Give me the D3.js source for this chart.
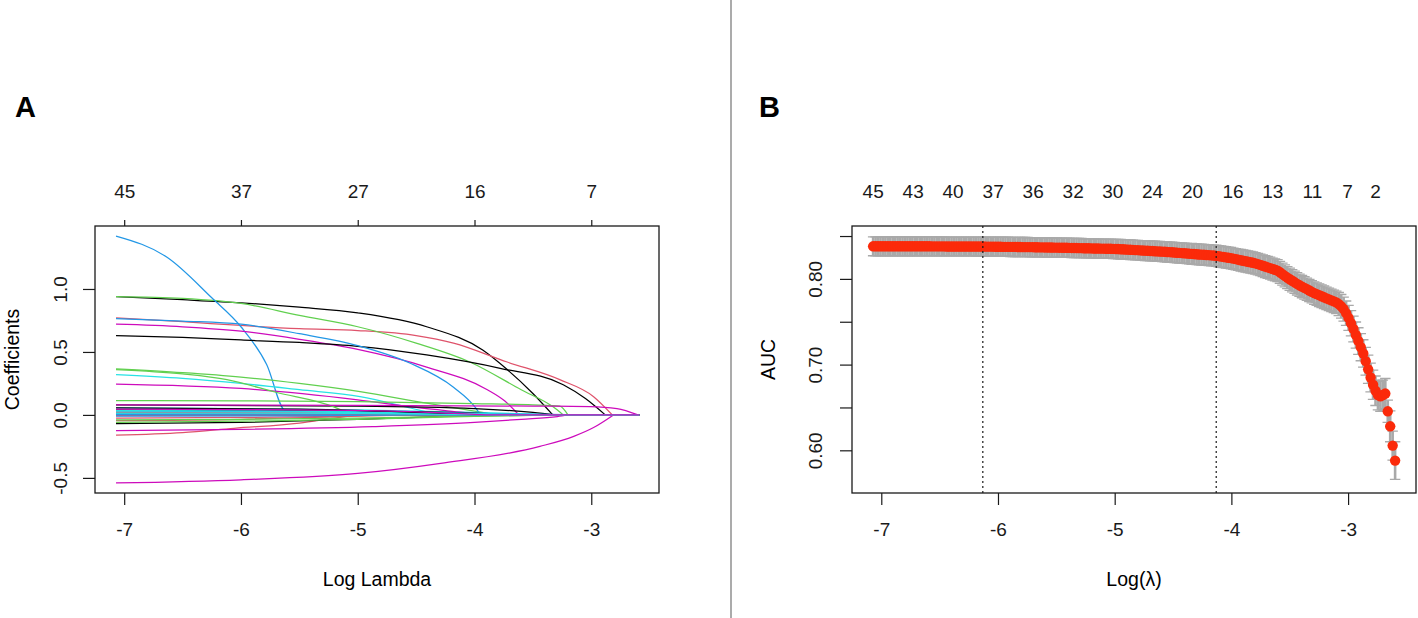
<!DOCTYPE html>
<html>
<head>
<meta charset="utf-8">
<script src="https://cdn.jsdelivr.net/npm/d3@7"></script>
<style>
  body { margin: 0; background: #fff; }
  svg { display: block; font-family: "Liberation Sans", Arial, Helvetica, sans-serif; }
</style>
</head>
<body>
<svg id="fig" width="1418" height="618"></svg>
<script>
// ---------- panel A : coefficient paths ----------
const pathTicks = [-7, -6, -5, -4, -3];
const coefTicks = [-0.5, 0, 0.5, 1.0];
const pathTopAt = [-7, -6, -5, -4, -3];
const pathTopLabels = ["45", "37", "27", "16", "7"];
const pathEnd = -2.59;

// [log lambda, coefficient] knots per variable, colours cycle like matplot
const coefPaths = [
  [[-7.07,0.94],[-6.5,0.915],[-6,0.89],[-5.5,0.855],[-5,0.81],[-4.41,0.70],[-3.93,0.515],[-3.72,0.36],[-3.5,0.17],[-3.33,0]],
  [[-7.07,0.77],[-6.5,0.74],[-6,0.71],[-5.5,0.685],[-5,0.67],[-4.5,0.63],[-4.18,0.57],[-3.72,0.42],[-3.27,0.28],[-2.98,0.145],[-2.82,0]],
  [[-7.07,0.94],[-6.5,0.925],[-6,0.885],[-5.5,0.79],[-5,0.70],[-4.5,0.57],[-4.04,0.42],[-3.6,0.20],[-3.33,0.066],[-3.24,0]],
  [[-7.07,1.42],[-6.63,1.25],[-6.25,0.93],[-6,0.70],[-5.78,0.40],[-5.62,0.035],[-5,0.02],[-4.3,0]],
  [[-7.07,0.32],[-6.5,0.29],[-6,0.25],[-5.5,0.20],[-4.98,0.145],[-4.55,0.055],[-4.3,0]],
  [[-7.07,0.72],[-6.5,0.70],[-6,0.665],[-5.5,0.60],[-5,0.52],[-4.41,0.38],[-3.89,0.20],[-3.74,0.11],[-3.62,0]],

  [[-7.07,0.63],[-6.5,0.615],[-6,0.595],[-5.5,0.575],[-5,0.545],[-4.41,0.476],[-3.78,0.37],[-3.24,0.24],[-3.05,0.13],[-2.88,0]],
  [[-7.07,-0.16],[-6.5,-0.14],[-6.06,-0.106],[-5.5,-0.065],[-5.2,-0.025],[-5.0,0]],
  [[-7.07,0.365],[-6.5,0.335],[-6,0.30],[-5.5,0.25],[-4.98,0.185],[-4.41,0.093],[-4.0,0.03],[-3.8,0]],
  [[-7.07,0.765],[-6.5,0.745],[-6,0.72],[-5.5,0.645],[-5,0.55],[-4.55,0.41],[-4.18,0.22],[-3.99,0.055],[-3.95,0]],
  [[-7.07,0.055],[-6,0.05],[-5,0.04],[-4,0.02],[-3.3,0]],
  [[-7.07,0.245],[-6,0.21],[-5,0.12],[-4.5,0.06],[-4.1,0.02],[-3.9,0]],

  [[-7.07,0.08],[-5,0.07],[-4,0.05],[-3.5,0.02],[-3.3,0]],
  [[-7.07,-0.025],[-6,-0.02],[-5,-0.01],[-4.5,0]],
  [[-7.07,0.36],[-6.5,0.325],[-6.12,0.28],[-5.7,0.18],[-5.21,0.066],[-5.05,0]],
  [[-7.07,0.013],[-5,0.01],[-4,0.005],[-3.5,0]],
  [[-7.07,0.005],[-5,0.003],[-4,0]],
  [[-7.07,-0.54],[-6,-0.515],[-5,-0.465],[-4.29,-0.385],[-3.44,-0.25],[-3.15,-0.17],[-2.98,-0.10],[-2.81,0]],

  [[-7.07,0.04],[-5,0.03],[-4,0.015],[-3.6,0]],
  [[-7.07,-0.045],[-6,-0.035],[-5.2,-0.015],[-4.8,0]],
  [[-7.07,0.113],[-6,0.112],[-5,0.105],[-4,0.09],[-3.5,0.08],[-3.27,0.07],[-3.2,0]],
  [[-7.07,0.03],[-5,0.025],[-4,0.012],[-3.0,0]],
  [[-7.07,0.025],[-5,0.02],[-4,0.01],[-3.2,0]],
  [[-7.07,0.08],[-5,0.075],[-3.5,0.07],[-3.01,0.066],[-2.78,0.05],[-2.6,0]],

  [[-7.07,-0.07],[-6,-0.06],[-5,-0.035],[-4.5,-0.02],[-3.9,0]],
  [[-7.07,0.02],[-5.5,0.015],[-4.6,0]],
  [[-7.07,-0.04],[-6,-0.035],[-5,-0.025],[-4,-0.01],[-3.3,0]],
  [[-7.07,0.005],[-5.5,0.004],[-4.5,0]],
  [[-7.07,0.035],[-6,0.032],[-5,0.022],[-4.2,0]],
  [[-7.07,-0.125],[-6,-0.115],[-4.87,-0.093],[-4,-0.06],[-3.6,-0.035],[-3.29,-0.013],[-3.2,0]],

  [[-7.07,0.055],[-5.5,0.045],[-4.5,0.02],[-4,0]],
  [[-7.07,-0.005],[-5.5,-0.004],[-4.7,0]],
  [[-7.07,-0.06],[-6,-0.05],[-5,-0.035],[-4.2,-0.015],[-3.3,0]],
  [[-7.07,-0.01],[-5.5,-0.008],[-4.6,0]],
  [[-7.07,0.015],[-5,0.012],[-3.8,0]],
  [[-7.07,0.045],[-5.5,0.04],[-4.5,0.025],[-3.9,0]]
];

// ---------- panel B : cross-validated AUC ----------
const cvFirst = -7.07;
const cvStep = 0.021;
const cvAuc = [
  0.8380,0.8380,0.8380,0.8380,0.8380,0.8380,0.8380,0.8380,0.8380,0.8380,
  0.8380,0.8380,0.8380,0.8380,0.8380,0.8380,0.8380,0.8380,0.8380,0.8380,
  0.8380,0.8380,0.8380,0.8380,0.8379,0.8379,0.8379,0.8379,0.8379,0.8379,
  0.8378,0.8378,0.8378,0.8378,0.8378,0.8378,0.8378,0.8378,0.8378,0.8378,
  0.8378,0.8378,0.8377,0.8377,0.8377,0.8377,0.8376,0.8376,0.8376,0.8376,
  0.8375,0.8375,0.8375,0.8374,0.8374,0.8374,0.8373,0.8373,0.8373,0.8372,
  0.8372,0.8371,0.8371,0.8371,0.8370,0.8370,0.8369,0.8369,0.8368,0.8368,
  0.8367,0.8367,0.8366,0.8366,0.8365,0.8365,0.8364,0.8364,0.8363,0.8363,
  0.8362,0.8361,0.8361,0.8360,0.8359,0.8359,0.8358,0.8357,0.8357,0.8356,
  0.8355,0.8355,0.8354,0.8353,0.8353,0.8352,0.8351,0.8351,0.8350,0.8349,
  0.8348,0.8346,0.8345,0.8343,0.8341,0.8340,0.8338,0.8336,0.8335,0.8333,
  0.8331,0.8330,0.8328,0.8326,0.8325,0.8323,0.8321,0.8320,0.8318,0.8316,
  0.8314,0.8312,0.8310,0.8308,0.8305,0.8303,0.8301,0.8299,0.8297,0.8294,
  0.8292,0.8290,0.8288,0.8285,0.8283,0.8281,0.8279,0.8277,0.8274,0.8272,
  0.8269,0.8265,0.8260,0.8256,0.8251,0.8247,0.8242,0.8236,0.8230,0.8224,
  0.8218,0.8212,0.8206,0.8200,0.8194,0.8188,0.8181,0.8172,0.8163,0.8153,
  0.8144,0.8134,0.8125,0.8115,0.8106,0.8096,0.8077,0.8056,0.8035,0.8014,
  0.7996,0.7978,0.7960,0.7942,0.7925,0.7910,0.7895,0.7880,0.7864,0.7849,
  0.7834,0.7822,0.7810,0.7798,0.7785,0.7773,0.7761,0.7749,0.7738,0.7726,
  0.7706,0.7680,0.7648,0.7600,0.7545,0.7482,0.7415,0.7345,0.7275,0.7203,
  0.7130,0.7040,0.6945,0.6850,0.6765,0.6695,0.6645,0.6630,0.6645,0.6662,
  0.6455,0.6280,0.6055,0.5880
];
const cvSe = [
  0.0110,0.0110,0.0110,0.0110,0.0110,0.0110,0.0110,0.0110,0.0110,0.0110,
  0.0110,0.0110,0.0110,0.0110,0.0110,0.0110,0.0110,0.0110,0.0110,0.0110,
  0.0110,0.0110,0.0110,0.0110,0.0110,0.0110,0.0110,0.0110,0.0110,0.0110,
  0.0110,0.0110,0.0110,0.0110,0.0110,0.0110,0.0110,0.0110,0.0110,0.0110,
  0.0110,0.0110,0.0110,0.0110,0.0110,0.0110,0.0110,0.0110,0.0110,0.0110,
  0.0112,0.0112,0.0112,0.0112,0.0112,0.0112,0.0112,0.0112,0.0112,0.0112,
  0.0112,0.0112,0.0112,0.0112,0.0112,0.0112,0.0112,0.0112,0.0112,0.0112,
  0.0112,0.0112,0.0112,0.0112,0.0112,0.0112,0.0112,0.0112,0.0112,0.0112,
  0.0112,0.0112,0.0112,0.0112,0.0112,0.0112,0.0112,0.0112,0.0112,0.0112,
  0.0112,0.0112,0.0112,0.0112,0.0112,0.0112,0.0112,0.0112,0.0112,0.0112,
  0.0114,0.0114,0.0114,0.0114,0.0114,0.0114,0.0114,0.0114,0.0114,0.0114,
  0.0116,0.0116,0.0116,0.0116,0.0116,0.0116,0.0116,0.0116,0.0116,0.0116,
  0.0118,0.0118,0.0118,0.0118,0.0118,0.0118,0.0118,0.0118,0.0118,0.0118,
  0.0121,0.0121,0.0121,0.0121,0.0121,0.0121,0.0121,0.0121,0.0121,0.0121,
  0.0124,0.0124,0.0124,0.0124,0.0124,0.0124,0.0124,0.0124,0.0124,0.0124,
  0.0126,0.0126,0.0126,0.0126,0.0126,0.0126,0.0126,0.0126,0.0126,0.0126,
  0.0128,0.0128,0.0128,0.0128,0.0128,0.0128,0.0128,0.0128,0.0128,0.0128,
  0.0130,0.0130,0.0130,0.0130,0.0130,0.0130,0.0130,0.0130,0.0130,0.0130,
  0.0132,0.0132,0.0132,0.0132,0.0132,0.0132,0.0132,0.0132,0.0132,0.0132,
  0.0135,0.0138,0.0140,0.0142,0.0145,0.0148,0.0150,0.0152,0.0155,0.0158,
  0.0160,0.0162,0.0165,0.0168,0.0170,0.0172,0.0173,0.0174,0.0175,0.0176,
  0.0130,0.0180,0.0170,0.0220
];
const cvLambdaMin = -6.13;
const cvLambda1se = -4.13;
const cvTicks = [-7, -6, -5, -4, -3];
const aucTicks = [0.60, 0.65, 0.70, 0.75, 0.80, 0.85];
const aucLabels = ["0.60", "", "0.70", "", "0.80", ""];
const cvTopAt = [-7.074, -6.731, -6.389, -6.046, -5.703, -5.36, -5.02, -4.68, -4.337, -3.99, -3.65, -3.31, -3.01, -2.77];
const cvTopLabels = ["45", "43", "40", "37", "36", "32", "30", "24", "20", "16", "13", "11", "7", "2"];

// ---------- drawing ----------
const palette = ["#000000", "#DF536B", "#61D04F", "#2297E6", "#28E2E5", "#CD0BBC"];
const ink = "#1a1a1a";
const fs = 19;

const svg = d3.select("#fig");
svg.append("rect").attr("width", 1418).attr("height", 618).attr("fill", "#fff");

// divider between the panels
svg.append("line")
  .attr("x1", 731).attr("x2", 731).attr("y1", 0).attr("y2", 618)
  .attr("stroke", "#8f8f8f").attr("stroke-width", 1.5);

function tidy(g) {
  g.attr("font-family", null).attr("font-size", fs).attr("color", ink);
  g.select(".domain").remove();
  g.selectAll(".tick line").attr("stroke-width", 1.2);
}

function rotateLeftLabels(g, off) {
  g.selectAll(".tick text")
    .attr("x", 0).attr("dy", null)
    .attr("text-anchor", "middle")
    .attr("transform", `translate(${-off},0) rotate(-90)`);
}

function panelLabel(txt, x) {
  svg.append("text").attr("x", x).attr("y", 117)
    .attr("font-size", 29).attr("font-weight", "bold").text(txt);
}

// ----- panel A -----
const A = { l: 95, r: 659, t: 226, b: 493 };
const xA = d3.scaleLinear().domain([-7.25, -2.42]).range([A.l, A.r]);
const yA = d3.scaleLinear().domain([-0.62, 1.5]).range([A.b, A.t]);

const lineA = d3.line()
  .x(d => xA(d[0]))
  .y(d => yA(d[1]))
  .curve(d3.curveMonotoneX);

svg.append("g").selectAll("path")
  .data(coefPaths)
  .join("path")
  .attr("d", pts => lineA(pts) + `L${xA(pathEnd)},${yA(0)}`)
  .attr("fill", "none")
  .attr("stroke", (d, i) => palette[i % palette.length])
  .attr("stroke-width", 1.25);

svg.append("rect")
  .attr("x", A.l).attr("y", A.t).attr("width", A.r - A.l).attr("height", A.b - A.t)
  .attr("fill", "none").attr("stroke", ink).attr("stroke-width", 1.3);

svg.append("g").attr("transform", `translate(0,${A.b})`)
  .call(d3.axisBottom(xA).tickValues(pathTicks).tickSize(12).tickPadding(18).tickFormat(d => String(d)))
  .call(tidy);

svg.append("g").attr("transform", `translate(0,${A.t})`)
  .call(d3.axisTop(xA).tickValues(pathTopAt).tickSize(6).tickPadding(22).tickFormat((d, i) => pathTopLabels[i]))
  .call(tidy);

svg.append("g").attr("transform", `translate(${A.l},0)`)
  .call(d3.axisLeft(yA).tickValues(coefTicks).tickSize(12).tickFormat(d => d.toFixed(1)))
  .call(tidy)
  .call(g => rotateLeftLabels(g, 28));

svg.append("text").attr("x", (A.l + A.r) / 2).attr("y", 586)
  .attr("text-anchor", "middle").attr("font-size", fs + 0.5).text("Log Lambda");

svg.append("text").attr("transform", `translate(18.5,${(A.t + A.b) / 2}) rotate(-90)`)
  .attr("text-anchor", "middle").attr("font-size", fs + 0.5).text("Coefficients");

panelLabel("A", 15);

// ----- panel B -----
const B = { l: 852, r: 1416, t: 226, b: 493 };
const xB = d3.scaleLinear().domain([-7.251, -2.418]).range([B.l, B.r]);
const yB = d3.scaleLinear().domain([0.5502, 0.8617]).range([B.b, B.t]);

const cvPoints = cvAuc.map((v, i) => ({ lam: cvFirst + i * cvStep, auc: v, se: cvSe[i] }));
const xs = cvPoints.map(d => d.lam);
const barW = 0.01 * (xB(d3.max(xs)) - xB(d3.min(xs)));

const bars = svg.append("g").attr("fill", "none").attr("stroke", "#a9a9a9");
bars.selectAll("path.v")
  .data(cvPoints)
  .join("path")
  .attr("class", "v")
  .attr("d", d => `M${xB(d.lam)},${yB(d.auc + d.se)}V${yB(d.auc - d.se)}`)
  .attr("stroke-width", 2.6);
bars.selectAll("path.c")
  .data(cvPoints)
  .join("path")
  .attr("class", "c")
  .attr("d", d => {
    const x = xB(d.lam), hi = yB(d.auc + d.se), lo = yB(d.auc - d.se);
    return `M${x - barW},${hi}H${x + barW}M${x - barW},${lo}H${x + barW}`;
  })
  .attr("stroke-width", 1.3);

svg.append("g").selectAll("circle")
  .data(cvPoints)
  .join("circle")
  .attr("cx", d => xB(d.lam))
  .attr("cy", d => yB(d.auc))
  .attr("r", 5.2)
  .attr("fill", "#fb2a0a");

svg.append("g").selectAll("line")
  .data([cvLambdaMin, cvLambda1se])
  .join("line")
  .attr("x1", d => xB(d)).attr("x2", d => xB(d))
  .attr("y1", B.t).attr("y2", B.b)
  .attr("stroke", ink).attr("stroke-width", 1.2)
  .attr("stroke-dasharray", "2,3");

svg.append("rect")
  .attr("x", B.l).attr("y", B.t).attr("width", B.r - B.l).attr("height", B.b - B.t)
  .attr("fill", "none").attr("stroke", ink).attr("stroke-width", 1.3);

svg.append("g").attr("transform", `translate(0,${B.b})`)
  .call(d3.axisBottom(xB).tickValues(cvTicks).tickSize(12).tickPadding(18).tickFormat(d => String(d)))
  .call(tidy);

svg.append("g").attr("transform", `translate(0,${B.t})`)
  .call(d3.axisTop(xB).tickValues(cvTopAt).tickSize(0).tickPadding(28).tickFormat((d, i) => cvTopLabels[i]))
  .call(tidy);

svg.append("g").attr("transform", `translate(${B.l},0)`)
  .call(d3.axisLeft(yB).tickValues(aucTicks).tickSize(12).tickFormat((d, i) => aucLabels[i]))
  .call(tidy)
  .call(g => rotateLeftLabels(g, 30));

svg.append("text").attr("x", (B.l + B.r) / 2).attr("y", 586)
  .attr("text-anchor", "middle").attr("font-size", fs + 0.5)
  .text("Log(λ)");

svg.append("text").attr("transform", `translate(775,${(B.t + B.b) / 2}) rotate(-90)`)
  .attr("text-anchor", "middle").attr("font-size", fs + 0.5).text("AUC");

panelLabel("B", 759);
</script>
</body>
</html>
